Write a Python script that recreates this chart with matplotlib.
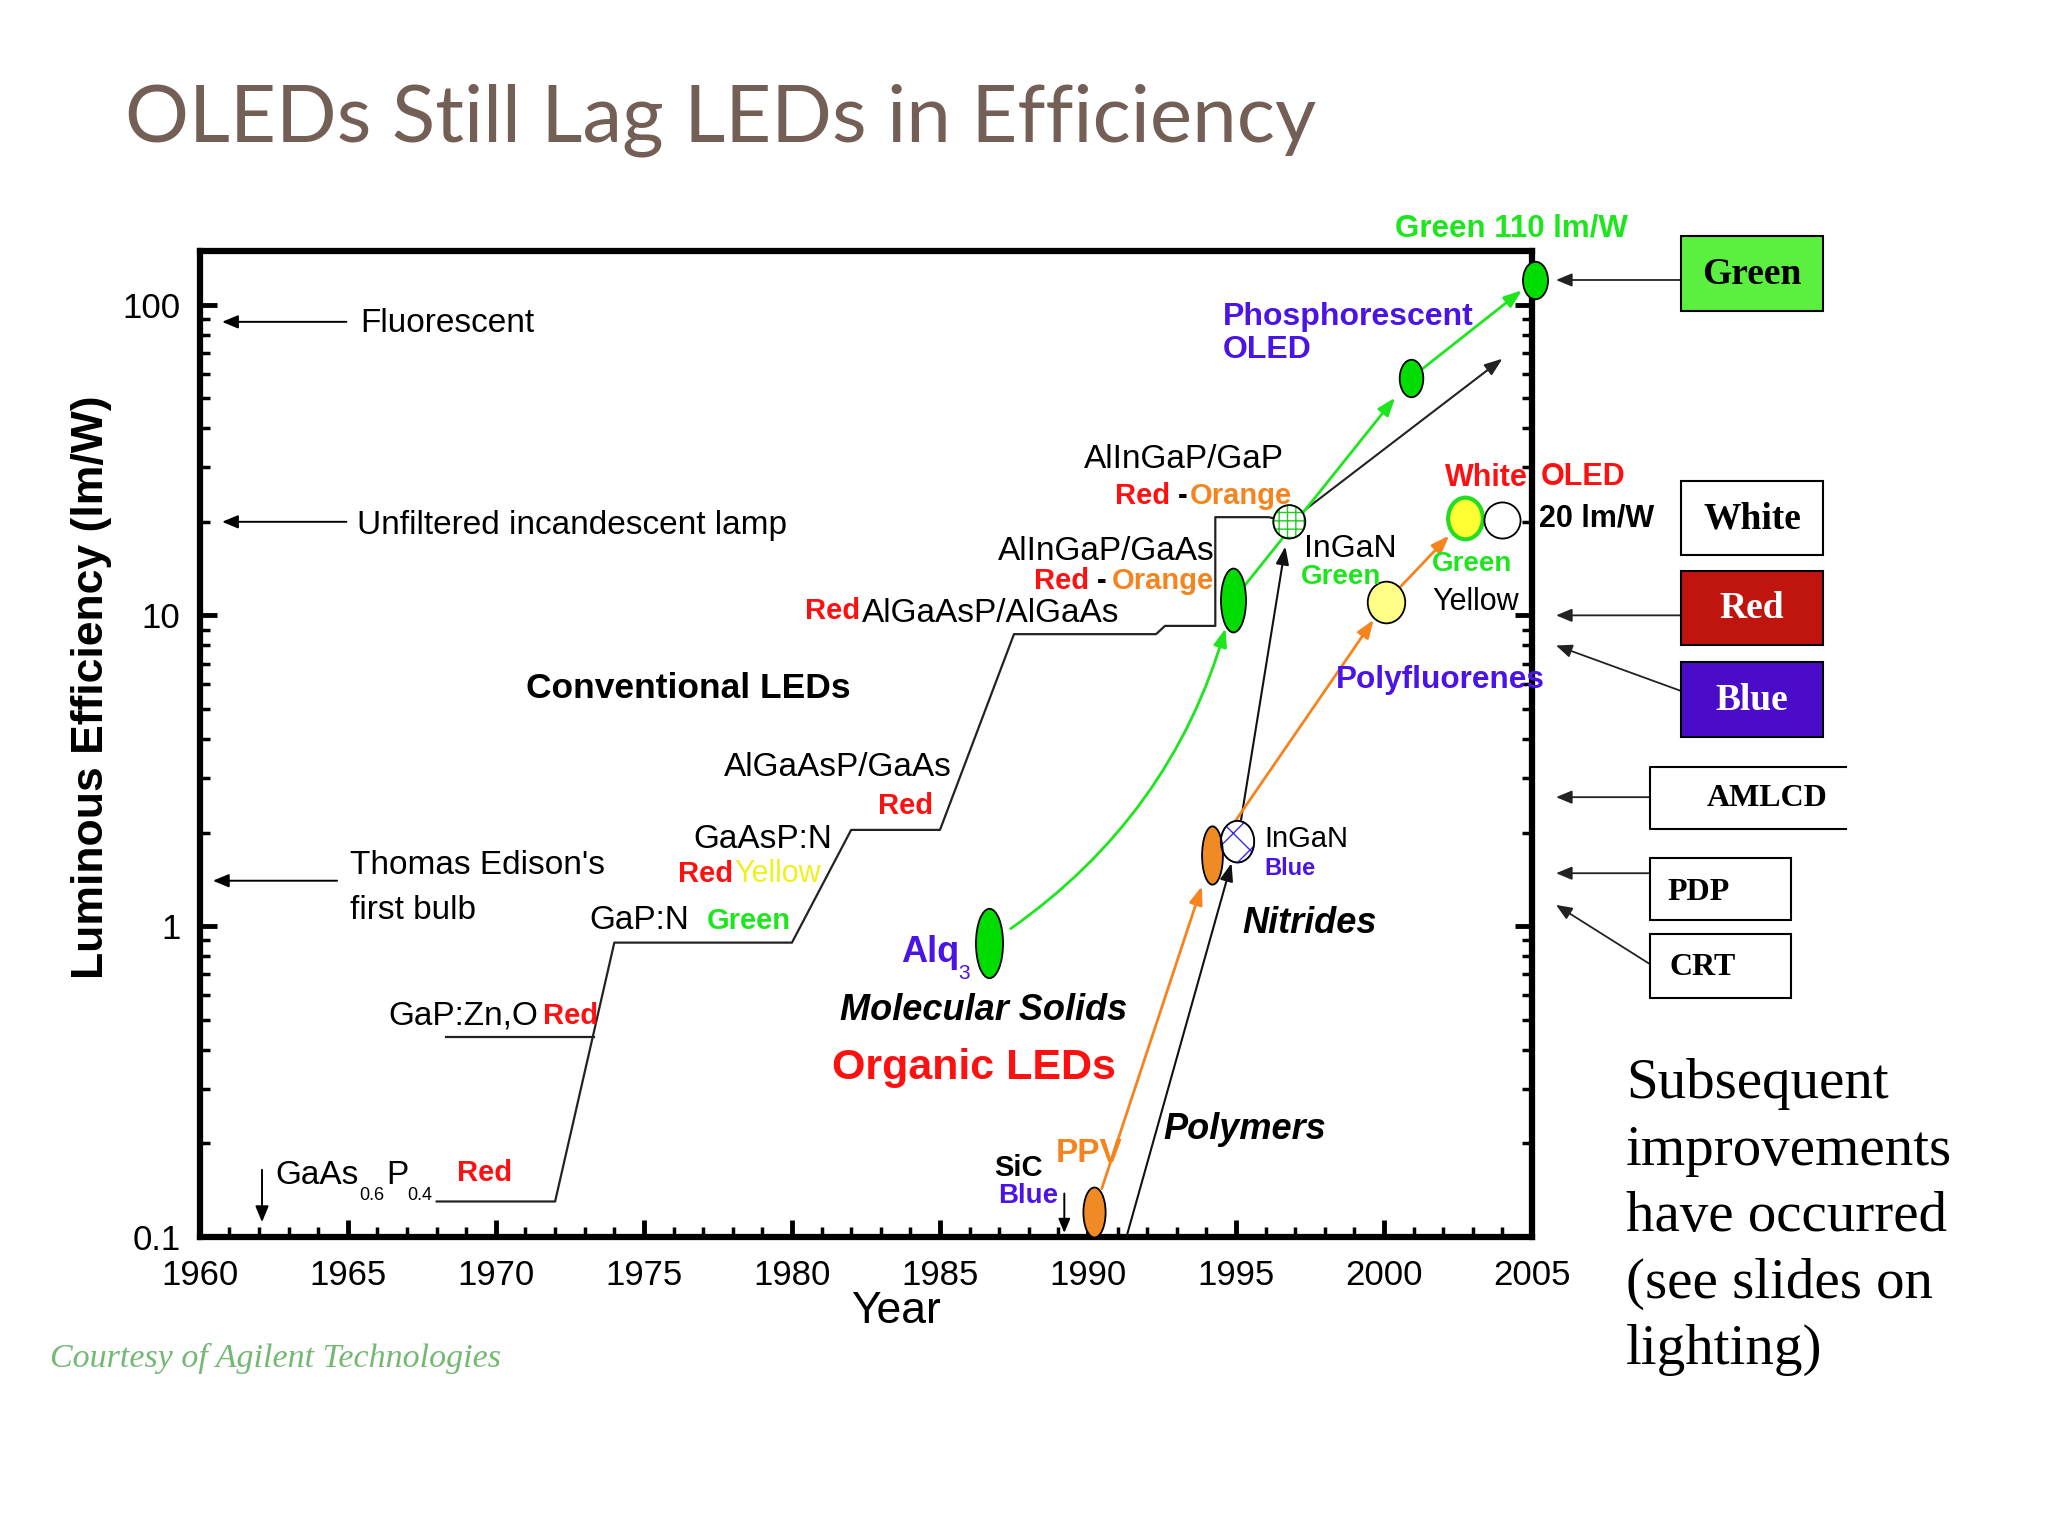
import matplotlib
matplotlib.use("Agg")
import matplotlib.pyplot as plt
from matplotlib.path import Path
from matplotlib.transforms import Affine2D
from matplotlib.patches import Rectangle
from matplotlib.lines import Line2D
import matplotlib.ticker as mticker

# ---------------- data ----------------
x_ticks = [1960, 1965, 1970, 1975, 1980, 1985, 1990, 1995, 2000, 2005]
y_ticks = [0.1, 1, 10, 100]
y_tick_labels = ["0.1", "1", "10", "100"]

# Conventional (inorganic) LED staircase, year vs lm/W
led_years = [1968.0, 1972.0, 1974.0, 1980.0, 1982.0, 1985.0, 1987.5, 1992.3,
             1992.6, 1994.3, 1994.3, 1996.1, 1996.8]
led_eff = [0.13, 0.13, 0.885, 0.885, 2.04, 2.04, 8.7, 8.7,
           9.25, 9.25, 20.7, 20.7, 20.0]
gapzno_years = [1968.3, 1973.3]
gapzno_eff = [0.44, 0.44]
led_trend_years = [1996.8, 2004.0]
led_trend_eff = [20.0, 67.0]

# Milestone points
point_names = ["Alq3", "GreenOLED", "Phosphorescent", "Green110", "AlInGaP_GaP",
               "InGaN_blue", "PPV_1994", "PPV_1990", "Polyfluorene",
               "WhiteOLED", "White20"]
point_years = [1986.65, 1994.9, 2000.9, 2005.1, 1996.8,
               1995.05, 1994.2, 1990.2, 2000.05, 2002.75, 2004.0]
point_eff = [0.88, 11.2, 58.0, 120.0, 20.0,
             1.87, 1.70, 0.12, 11.0, 20.5, 20.2]

nitride_start_year, nitride_start_eff = 1991.3, 0.1

# Reference light sources (lm/W)
lamp_names = ["Fluorescent", "Unfiltered incandescent lamp", "Thomas Edison's\nfirst bulb"]
lamp_eff = [88.0, 20.0, 1.4]

# Display technologies (lm/W)
display_names = ["Green", "Red", "Blue", "AMLCD", "PDP", "CRT"]
display_eff = [120.0, 10.0, 8.0, 2.6, 1.48, 1.17]

# Year markers (down arrows)
gaasp_year = 1962.1
sic_year = 1989.2

# ---------------- styles ----------------
GREEN = "#1EE61E"
RED = "#FF1010"
ORANGE = "#F5841F"
PURPLE = "#4A14E6"
YELLOW = "#F0F01E"
SANS = "Liberation Sans"
SERIF = "Liberation Serif"

plt.rcParams["font.family"] = SANS

W, H = 1568.0, 1176.0   # reference layout grid


def fx(X):
    return X / W


def fy(Y):
    return 1.0 - Y / H


fig = plt.figure(figsize=(20.48, 15.36), dpi=100)
fig.patch.set_facecolor("white")
ax = fig.add_axes([fx(153), fy(947), (1173 - 153) / W, (947 - 192) / H])

ax.set_yscale("log")
ax.set_xlim(1960, 2005)
ax.set_ylim(0.1, 149)

for s in ax.spines.values():
    s.set_linewidth(4.5)
ax.set_xticks(x_ticks)
ax.set_xticklabels([str(v) for v in x_ticks])
ax.set_yticks(y_ticks)
ax.set_yticklabels(y_tick_labels)
ax.xaxis.set_minor_locator(mticker.MultipleLocator(1))
ax.yaxis.set_minor_locator(mticker.LogLocator(base=10, subs=range(2, 10)))
ax.yaxis.set_minor_formatter(mticker.NullFormatter())
ax.tick_params(which="both", direction="in", top=False, right=True, labelsize=25)
ax.tick_params(which="major", length=12, width=3.5)
ax.tick_params(which="minor", length=7, width=2.5)
ax.tick_params(axis="x", pad=16)
ax.tick_params(axis="y", pad=14)

ax.set_ylabel("Luminous Efficiency (lm/W)", fontsize=32, fontweight="bold", va="center")
ax.yaxis.set_label_coords((70 - 153) / 1020, (947 - 526) / 755)
ax.set_xlabel("Year", fontsize=32, va="center")
ax.xaxis.set_label_coords((686 - 153) / 1020, (947 - 1004) / 755)

# ---------------- staircase ----------------
ax.plot(led_years, led_eff, color="#222222", lw=1.6, zorder=3)
ax.plot(gapzno_years, gapzno_eff, color="#222222", lw=1.6, zorder=3)

pts = {n: (x, y) for n, x, y in zip(point_names, point_years, point_eff)}


def arrow(p0, p1, color, lw=2.0, sA=0.0, sB=0.0, rad=0.0, hl=0.6, hw=0.22, ms=18,
          xycoords="data", textcoords=None):
    ax.annotate("", xy=p1, xytext=p0, xycoords=xycoords,
                textcoords=textcoords if textcoords is not None else xycoords,
                arrowprops=dict(arrowstyle=f"-|>,head_length={hl},head_width={hw}",
                                color=color, lw=lw, shrinkA=sA, shrinkB=sB,
                                mutation_scale=ms,
                                connectionstyle=f"arc3,rad={rad}"),
                annotation_clip=False, zorder=4)


# trend of LEDs
arrow((led_trend_years[0], led_trend_eff[0]), (led_trend_years[1], led_trend_eff[1]),
      "#222222", lw=1.5, sA=14)

# green OLED path
arrow(pts["Alq3"], pts["GreenOLED"], GREEN, sA=19, sB=21, rad=0.2)
arrow(pts["GreenOLED"], pts["Phosphorescent"], GREEN, sA=13, sB=18)
arrow(pts["Phosphorescent"], pts["Green110"], GREEN, sA=9, sB=12)
# nitrides
arrow((nitride_start_year, nitride_start_eff), pts["InGaN_blue"], "#111111", lw=1.5, sB=16)
arrow(pts["InGaN_blue"], pts["AlInGaP_GaP"], "#111111", lw=1.5, sA=16, sB=18)
# polymers
arrow(pts["PPV_1990"], pts["PPV_1994"], ORANGE, sA=18, sB=24)
arrow(pts["PPV_1994"], pts["Polyfluorene"], ORANGE, sA=24, sB=15)
arrow(pts["Polyfluorene"], pts["WhiteOLED"], ORANGE, sA=16, sB=17)

# ---------------- ellipse markers ----------------


def ellipse_marker(aspect):
    return Affine2D().scale(aspect, 1.0).transform_path(Path.unit_circle())


marker_style = {
    "Alq3": dict(w=19.5, h=50, fc="#00DD00", ec="black"),
    "GreenOLED": dict(w=18, h=46, fc="#00DD00", ec="black"),
    "Phosphorescent": dict(w=17, h=27, fc="#00DD00", ec="black"),
    "Green110": dict(w=18, h=27, fc="#00DD00", ec="black"),
    "AlInGaP_GaP": dict(w=23, h=24, fc="white", ec="black", hatch="++", hc="#22CC22"),
    "InGaN_blue": dict(w=24, h=30, fc="white", ec="black", hatch="x", hc="#3A2AE8"),
    "PPV_1994": dict(w=15, h=42, fc="#F08A24", ec="black"),
    "PPV_1990": dict(w=16, h=36, fc="#F08A24", ec="black"),
    "Polyfluorene": dict(w=27, h=30, fc="#FFFF88", ec="black"),
    "WhiteOLED": dict(w=25, h=30, fc="#FFFF33", ec="#22DD22", lw=3.0),
    "White20": dict(w=26, h=26, fc="white", ec="black"),
}
for name in point_names:
    st = marker_style[name]
    x, y = pts[name]
    m = ellipse_marker(st["w"] / st["h"])
    if "hatch" in st:
        ax.scatter([x], [y], s=st["h"] ** 2, marker=m, facecolor=st["fc"],
                   edgecolor=st["hc"], hatch=st["hatch"], linewidths=1.0,
                   zorder=6, clip_on=False)
        ax.scatter([x], [y], s=st["h"] ** 2, marker=m, facecolor="none",
                   edgecolor=st["ec"], linewidths=1.3, zorder=7, clip_on=False)
    else:
        ax.scatter([x], [y], s=st["h"] ** 2, marker=m, facecolor=st["fc"],
                   edgecolor=st["ec"], linewidths=st.get("lw", 1.3),
                   zorder=6, clip_on=False)

# ---------------- reference lamps (left arrows) ----------------
ytr = ax.get_yaxis_transform()
lamp_arrow_x = [(0.0167, 0.110), (0.0167, 0.110), (0.0098, 0.103)]
for (xa, xb), e in zip(lamp_arrow_x, lamp_eff):
    arrow((xb, e), (xa, e), "black", lw=1.4, hl=0.6, hw=0.25, ms=16, xycoords=ytr)

# year down-arrows
xtr = ax.get_xaxis_transform()
arrow((gaasp_year, 0.068), (gaasp_year, 0.015), "black", lw=1.4, hl=0.6, hw=0.25, ms=16,
      xycoords=xtr)
arrow((sic_year, 0.044), (sic_year, 0.004), "black", lw=1.4, hl=0.6, hw=0.25, ms=14,
      xycoords=xtr)

# ---------------- display technology boxes ----------------
box_layout = {
    "Green": dict(X0=1287, X1=1396, Y0=181, Y1=238, fc="#5BF03F", tc="black", size=27,
                  tx=1341.5, ty=210, ha="center", tail=None, ax0=1.1118),
    "Red": dict(X0=1287, X1=1396, Y0=437, Y1=494, fc="#C0140E", tc="white", size=27,
                tx=1341.5, ty=466, ha="center", tail=None, ax0=1.1118),
    "Blue": dict(X0=1287, X1=1396, Y0=507, Y1=564, fc="#4B0CC9", tc="white", size=27,
                 tx=1341.5, ty=536, ha="center", tail=(1287, 529), ax0=1.1118),
    "AMLCD": dict(X0=1263, X1=1413, Y0=587, Y1=635, fc="white", tc="black", size=23,
                  tx=1353, ty=611, ha="center", tail=None, ax0=1.088, open_right=True),
    "PDP": dict(X0=1263, X1=1371, Y0=657, Y1=704, fc="white", tc="black", size=23,
                tx=1277, ty=683, ha="left", tail=None, ax0=1.088),
    "CRT": dict(X0=1263, X1=1371, Y0=715, Y1=764, fc="white", tc="black", size=23,
                tx=1278, ty=741, ha="left", tail=(1263, 738), ax0=1.088),
}
for name, e in zip(display_names, display_eff):
    b = box_layout[name]
    if b.get("open_right"):
        fig.add_artist(Line2D([fx(b["X1"]), fx(b["X0"]), fx(b["X0"]), fx(b["X1"])],
                              [fy(b["Y0"]), fy(b["Y0"]), fy(b["Y1"]), fy(b["Y1"])],
                              transform=fig.transFigure, color="black", lw=1.5))
    else:
        fig.add_artist(Rectangle((fx(b["X0"]), fy(b["Y1"])), fx(b["X1"]) - fx(b["X0"]),
                                 fy(b["Y0"]) - fy(b["Y1"]), transform=fig.transFigure,
                                 facecolor=b["fc"], edgecolor="black", lw=1.5))
    fig.text(fx(b["tx"]), fy(b["ty"]), name, fontsize=b["size"], fontweight="bold",
             family=SERIF, color=b["tc"], ha=b["ha"], va="center")
    if b["tail"] is None:
        arrow((b["ax0"], e), (1.018, e), "#222222", lw=1.3, hl=0.6, hw=0.25, ms=16,
              xycoords=ytr)
    else:
        ax.annotate("", xy=(1.018, e), xycoords=ytr,
                    xytext=(fx(b["tail"][0]), fy(b["tail"][1])), textcoords="figure fraction",
                    arrowprops=dict(arrowstyle="-|>,head_length=0.6,head_width=0.25",
                                    color="#222222", lw=1.3, shrinkA=0, shrinkB=0,
                                    mutation_scale=16),
                    annotation_clip=False)

# White box (no arrow)
fig.add_artist(Rectangle((fx(1287), fy(425)), fx(1396) - fx(1287), fy(368) - fy(425),
                         transform=fig.transFigure, facecolor="white", edgecolor="black", lw=1.5))
fig.text(fx(1341.5), fy(397), "White", fontsize=27, fontweight="bold", family=SERIF,
         ha="center", va="center")

# ---------------- text labels ----------------


def T(X, Y, s, size=24, color="black", weight="normal", style="normal", ha="left",
      family=SANS):
    fig.text(fx(X), fy(Y), s, fontsize=size, color=color, fontweight=weight,
             fontstyle=style, ha=ha, va="center", family=family)


T(96, 92, "OLEDs Still Lag LEDs in Efficiency", size=57.5, color="#735F55", family="Lato")

T(276, 248, lamp_names[0])
T(273, 402, lamp_names[1])
T(268, 663, "Thomas Edison's")
T(268, 697, "first bulb")

T(403, 527, "Conventional LEDs", size=25.5, weight="bold")
T(1068, 175, "Green 110 lm/W", size=22.5, color=GREEN, weight="bold")
T(936, 243, "Phosphorescent", size=23, color=PURPLE, weight="bold")
T(936, 268, "OLED", size=23, color=PURPLE, weight="bold")

T(830, 352, "AlInGaP/GaP")
T(854, 380, "Red", size=21, color=RED, weight="bold")
T(902, 380, "-", size=21, weight="bold")
T(911, 380, "Orange", size=21, color=ORANGE, weight="bold")

T(764, 422, "AlInGaP/GaAs")
T(792, 445, "Red", size=21, color=RED, weight="bold")
T(840, 445, "-", size=21, weight="bold")
T(851, 445, "Orange", size=21, color=ORANGE, weight="bold")

T(616, 468, "Red", size=21, color=RED, weight="bold")
T(660, 470, "AlGaAsP/AlGaAs")

T(998, 420, "InGaN", size=23)
T(996, 442, "Green", size=20, color=GREEN, weight="bold")

T(1106, 366, "White", size=22, color=RED, weight="bold")
T(1180, 365, "OLED", size=22, color=RED, weight="bold")
T(1178, 397, "20 lm/W", size=22, weight="bold")
T(1096, 432, "Green", size=20, color=GREEN, weight="bold")
T(1097, 461, "Yellow", size=22)
T(1023, 521, "Polyfluorenes", size=22.7, color=PURPLE, weight="bold")

T(554, 588, "AlGaAsP/GaAs")
T(672, 617, "Red", size=21, color=RED, weight="bold")
T(531, 643, "GaAsP:N")
T(519, 669, "Red", size=21, color=RED, weight="bold")
T(562, 669, "Yellow", size=22, color=YELLOW)
T(451, 705, "GaP:N")
T(541, 705, "Green", size=21, color=GREEN, weight="bold")
T(297, 778, "GaP:Zn,O")
T(416, 778, "Red", size=21, color=RED, weight="bold")

T(211, 900, "GaAs")
T(275, 915, "0.6", size=13)
T(296, 900, "P")
T(312, 915, "0.4", size=13)
T(350, 898, "Red", size=21, color=RED, weight="bold")

T(690, 729, "Alq", size=26, color=PURPLE, weight="bold")
T(734, 745, "3", size=15, color=PURPLE)
T(643, 774, "Molecular Solids", size=26, weight="bold", style="italic")
T(637, 818, "Organic LEDs", size=31, color=RED, weight="bold")
T(951, 707, "Nitrides", size=26, weight="bold", style="italic")
T(968, 642, "InGaN", size=21)
T(968, 665, "Blue", size=17, color=PURPLE, weight="bold")
T(891, 865, "Polymers", size=26, weight="bold", style="italic")
T(808, 883, "PPV", size=24, color=ORANGE, weight="bold")
T(761, 894, "SiC", size=21, weight="bold")
T(764, 916, "Blue", size=20, color=PURPLE, weight="bold")

fig.text(fx(1245), fy(932), "Subsequent\nimprovements\nhave occurred\n(see slides on\nlighting)",
         fontsize=41, family=SERIF, ha="left", va="center", linespacing=1.36)
T(38, 1040, "Courtesy of Agilent Technologies", size=24.5, color="#74B874",
  style="italic", family=SERIF)

fig.savefig("out.png", dpi=100)
